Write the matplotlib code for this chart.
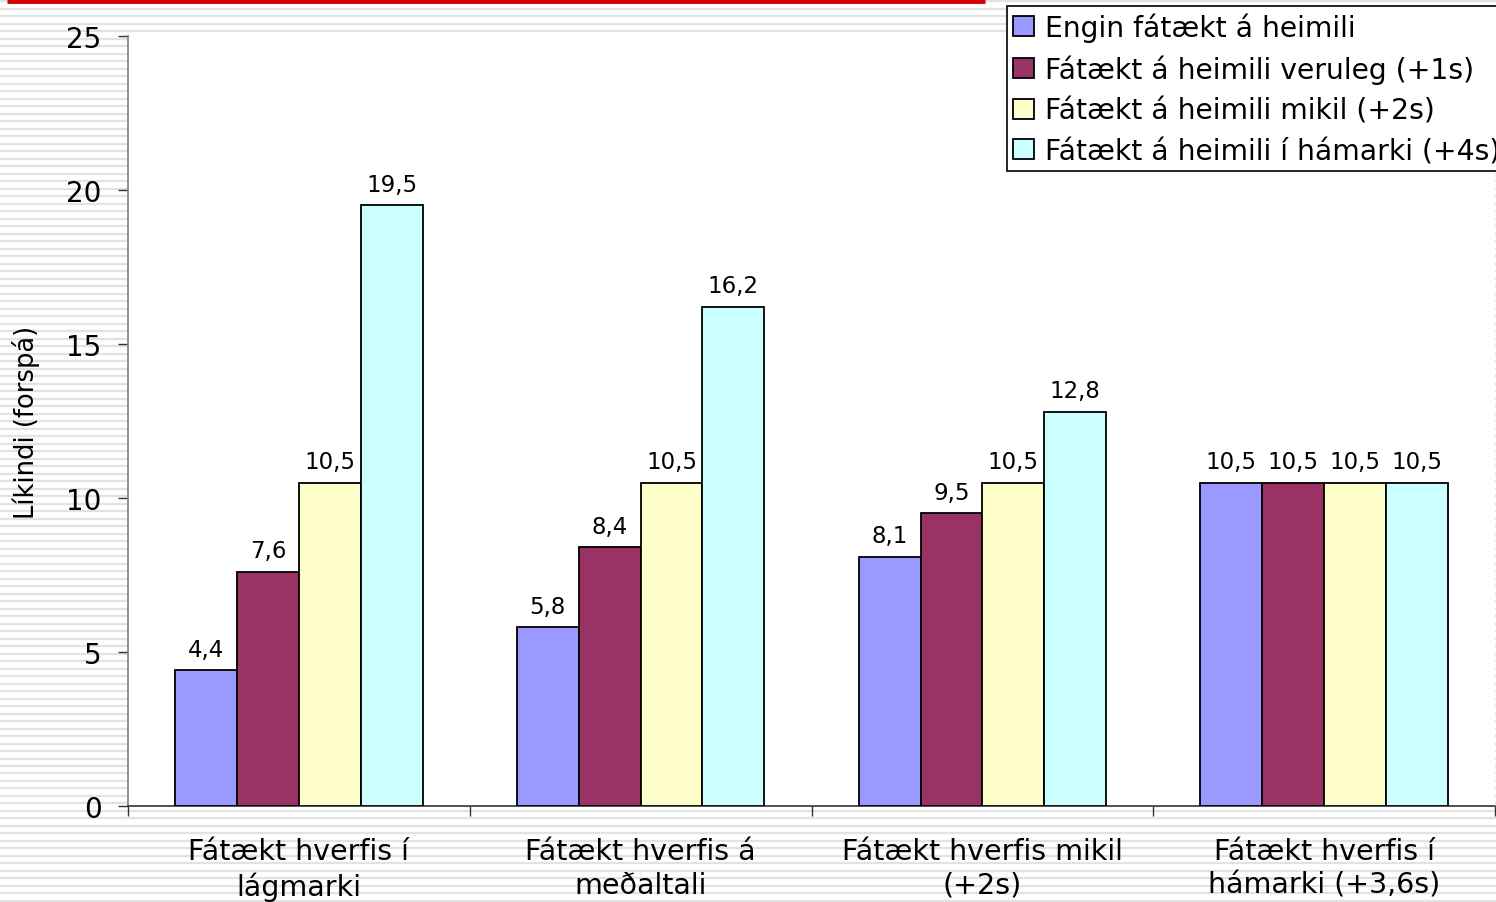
import numpy as np
import matplotlib.pyplot as plt
from matplotlib.patches import Patch

# groups (x axis) and series
categories = ['Fátækt hverfis í\nlágmarki', 'Fátækt hverfis á\nmeðaltali',
              'Fátækt hverfis mikil\n(+2s)', 'Fátækt hverfis í\nhámarki (+3,6s)']
series_names = ['Engin fátækt á heimili', 'Fátækt á heimili veruleg (+1s)',
                'Fátækt á heimili mikil (+2s)', 'Fátækt á heimili í hámarki (+4s)']
engin = [4.4, 5.8, 8.1, 10.5]
veruleg = [7.6, 8.4, 9.5, 10.5]
mikil = [10.5, 10.5, 10.5, 10.5]
hamarki = [19.5, 16.2, 12.8, 10.5]
colors = ['#9999FF', '#993366', '#FFFFCC', '#CCFFFF']
yticks = [0, 5, 10, 15, 20, 25]

plt.rcParams['font.family'] = ['DejaVu Sans']

W, H = 1496, 903
fig = plt.figure(figsize=(W / 100, H / 100), dpi=100)

# striped slide background
bg = fig.add_axes([0, 0, 1, 1], zorder=-5)
bg.set_xlim(0, W)
bg.set_ylim(H, 0)
bg.axis('off')
for y in np.arange(2, H, 7.5):
    bg.axhline(y, color='#e2e2e2', lw=1.6)
# red line at top
bg.plot([7, 985], [1.5, 1.5], color='#d40000', lw=3.5, solid_capstyle='butt')

ax = fig.add_axes([128 / W, 1 - 807 / H, (1495 - 128) / W, (807 - 37) / H])
ax.set_facecolor('white')

data = [engin, veruleg, mikil, hamarki]
n = len(categories)
x = np.arange(n)
bw = 0.181
for i, (vals, col, name) in enumerate(zip(data, colors, series_names)):
    pos = x + (i - 1.5) * bw
    bars = ax.bar(pos, vals, width=bw, color=col, edgecolor='black', lw=1.3, label=name, zorder=3)
    for b, v in zip(bars, vals):
        ax.annotate(('%.1f' % v).replace('.', ','), (b.get_x() + b.get_width() / 2, v),
                    xytext=(0, 7), textcoords='offset points', ha='center', va='bottom',
                    fontsize=16.5)

ax.set_xlim(-0.5, n - 0.5)
ax.set_ylim(0, 25)
ax.set_yticks(yticks)
ax.tick_params(axis='y', labelsize=20, length=7, width=1, color='#333333', pad=12)
ax.set_xticks(x)
ax.set_xticklabels(categories, fontsize=20.5, linespacing=1.25)
ax.tick_params(axis='x', length=0, pad=22.5)
ax.set_xticks(np.arange(n + 1) - 0.5, minor=True)
ax.tick_params(axis='x', which='minor', length=7, width=1, color='#333333')

for s in ['top', 'right']:
    ax.spines[s].set_visible(False)
ax.spines['left'].set_color('#808080')
ax.spines['left'].set_linewidth(1.2)
ax.spines['bottom'].set_color('#333333')
ax.spines['bottom'].set_linewidth(1.2)

ax.set_ylabel('Líkindi (forspá)', fontsize=18.5)
ax.yaxis.set_label_coords((40 - 128) / 1367, 0.5)

handles = [Patch(facecolor=c, edgecolor='black', lw=1.3) for c in colors]
leg = fig.legend(handles, series_names, loc='upper left',
                 bbox_to_anchor=(1007 / W, 1 - 7 / H), fontsize=20.3,
                 frameon=True, fancybox=False, framealpha=1, edgecolor='black',
                 handlelength=0.72, handleheight=0.72, handletextpad=0.4,
                 labelspacing=0.45, borderpad=0.22, borderaxespad=0)
leg.get_frame().set_linewidth(1.2)

fig.savefig('out.png', dpi=100)
